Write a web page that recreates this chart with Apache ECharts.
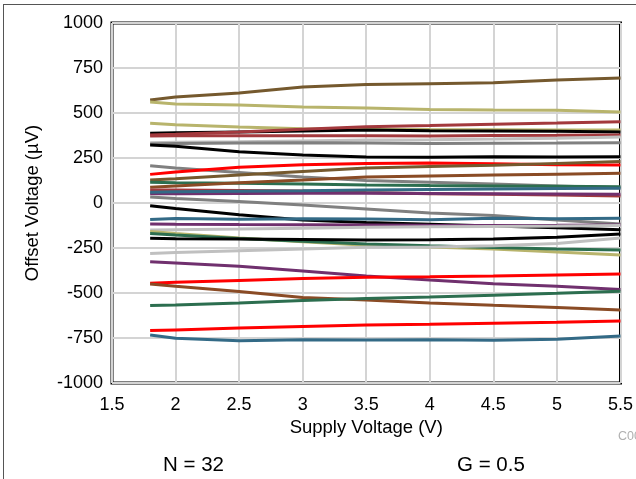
<!DOCTYPE html>
<html>
<head>
<meta charset="utf-8">
<script src="https://cdn.jsdelivr.net/npm/echarts@6/dist/echarts.min.js"></script>
<style>
html,body{margin:0;padding:0;background:#fff;}
#frame{position:absolute;left:3px;top:4px;width:640px;height:480px;border-top:1px solid #555;border-left:1px solid #555;}
#chart{position:absolute;left:0;top:0;width:636px;height:479px;}
</style>
</head>
<body>
<div id="frame"></div>
<div id="chart"></div>
<script>
// Supply voltage sample points (V)
const voltage = [1.8, 2.0, 2.5, 3.0, 3.5, 4.0, 4.5, 5.0, 5.5];
const xTicks = ['1.5','2','2.5','3','3.5','4','4.5','5','5.5'];
const yTicks = ['-1000','-750','-500','-250','0','250','500','750','1000'];

// Offset voltage (uV) per unit
const u01 = [572, 589, 611, 644, 658, 663, 668, 683, 694];
const u02 = [561, 550, 544, 533, 528, 520, 517, 515, 506];
const u03 = [443, 435, 422, 413, 410, 408, 407, 406, 405];
const u04 = [387, 390, 395, 400, 405, 402, 400, 398, 395];
const u05 = [378, 382, 395, 410, 424, 430, 438, 444, 452];
const u06 = [372, 373, 373, 374, 373, 372, 375, 376, 378];
const u07 = [335, 337, 340, 345, 350, 352, 355, 360, 367];
const u08 = [328, 330, 333, 335, 333, 331, 332, 333, 335];
const u09 = [322, 315, 285, 267, 255, 254, 257, 255, 257];
const u10 = [207, 195, 170, 145, 125, 115, 105, 95, 85];
const u11 = [159, 172, 198, 212, 220, 222, 218, 213, 211];
const u12 = [128, 135, 155, 175, 195, 203, 210, 220, 230];
const u13 = [115, 113, 110, 105, 100, 97, 95, 93, 90];
const u14 = [87, 95, 112, 128, 145, 150, 155, 160, 165];
const u15 = [72, 72, 70, 66, 58, 52, 48, 44, 39];
const u16 = [52, 52, 53, 54, 54, 53, 52, 50, 48];
const u17 = [60, 62, 65, 68, 72, 75, 78, 80, 82];
const u18 = [33, 25, 8, -11, -33, -55, -70, -95, -117];
const u19 = [-15, -30, -65, -94, -108, -118, -128, -138, -148];
const u20 = [-92, -86, -90, -88, -89, -93, -85, -88, -85];
const u21 = [-117, -118, -120, -121, -122, -124, -125, -124, -122];
const u22 = [-150, -148, -145, -140, -135, -132, -130, -128, -125];
const u23 = [-159, -170, -195, -215, -235, -245, -255, -272, -289];
const u24 = [-169, -178, -197, -212, -228, -238, -247, -255, -261];
const u25 = [-196, -198, -200, -203, -206, -204, -200, -190, -172];
const u26 = [-280, -275, -265, -255, -246, -244, -238, -225, -194];
const u27 = [-326, -333, -352, -378, -406, -428, -448, -462, -480];
const u28 = [-446, -440, -430, -420, -413, -410, -406, -400, -394];
const u29 = [-450, -463, -492, -525, -539, -555, -568, -580, -594];
const u30 = [-570, -566, -555, -542, -530, -522, -512, -502, -490];
const u31 = [-709, -705, -695, -686, -678, -674, -668, -662, -655];
const u32 = [-733, -752, -765, -760, -761, -760, -762, -757, -739];

const C = {
  black:'#000000', red:'#ff0000', olive:'#75592e', khaki:'#b8b46c', darkred:'#a3393d',
  gray:'#808080', lgray:'#c0c0c0', green:'#2c6e4f', sienna:'#8a4b25', purple:'#70306e', blue:'#336a86'
};
const units = [
  [u01,C.olive],[u02,C.khaki],[u03,C.khaki],[u04,C.black],[u05,C.darkred],[u06,C.darkred],
  [u07,C.lgray],[u08,C.gray],[u09,C.black],[u10,C.gray],[u11,C.red],[u12,C.olive],
  [u13,C.green],[u14,C.sienna],[u15,C.darkred],[u16,C.purple],[u17,C.blue],[u18,C.gray],
  [u19,C.black],[u20,C.blue],[u21,C.purple],[u22,C.lgray],[u23,C.khaki],[u24,C.green],
  [u25,C.black],[u26,C.lgray],[u27,C.purple],[u28,C.red],[u29,C.sienna],[u30,C.green],
  [u31,C.red],[u32,C.blue]
];

const font = "'Liberation Sans', Arial, sans-serif";
const chart = echarts.init(document.getElementById('chart'), null, {renderer:'canvas'});
chart.setOption({
  animation:false,
  backgroundColor:'transparent',
  grid:{left:112, right:14, top:23, bottom:96, show:true, borderColor:'#000', borderWidth:3, backgroundColor:'transparent'},
  xAxis:{
    type:'value', min:1.5, max:5.5, interval:0.5,
    name:'Supply Voltage (V)', nameLocation:'middle', nameGap:34,
    nameTextStyle:{fontSize:18.5, color:'#000', fontFamily:font},
    axisLine:{show:false}, axisTick:{show:false},
    axisLabel:{fontSize:18, color:'#000', fontFamily:font, margin:13,
      formatter:(v)=>{const s=String(v);return xTicks.includes(s)?s:'';}},
    splitLine:{show:true, lineStyle:{color:'#d4d4d4', width:2}}
  },
  yAxis:{
    type:'value', min:-1000, max:1000, interval:250,
    name:'Offset Voltage (\u00b5V)', nameLocation:'middle', nameGap:70, nameRotate:90,
    nameTextStyle:{fontSize:18.5, color:'#000', fontFamily:font},
    axisLine:{show:false}, axisTick:{show:false},
    axisLabel:{fontSize:18, color:'#000', fontFamily:font, margin:9,
      formatter:(v)=>{const s=String(v);return yTicks.includes(s)?s:'';}},
    splitLine:{show:true, lineStyle:{color:'#d4d4d4', width:2}}
  },
  series: units.map(([vals,color],i)=>({
    type:'line', name:'Unit '+(i+1), showSymbol:false, symbol:'none',
    data: voltage.map((v,k)=>[v, vals[k]]),
    lineStyle:{color:color, width:3}, itemStyle:{color:color}
  })),
  graphic:[
    {type:'text', left:163, top:455, style:{text:'N = 32', fontSize:20.5, fill:'#000', fontFamily:font}},
    {type:'text', left:457, top:455, style:{text:'G = 0.5', fontSize:20.5, fill:'#000', fontFamily:font}},
    {type:'text', left:618, top:430, style:{text:'C001', fontSize:12.5, fill:'#b0b0b0', fontFamily:font}}
  ]
});
</script>
</body>
</html>
